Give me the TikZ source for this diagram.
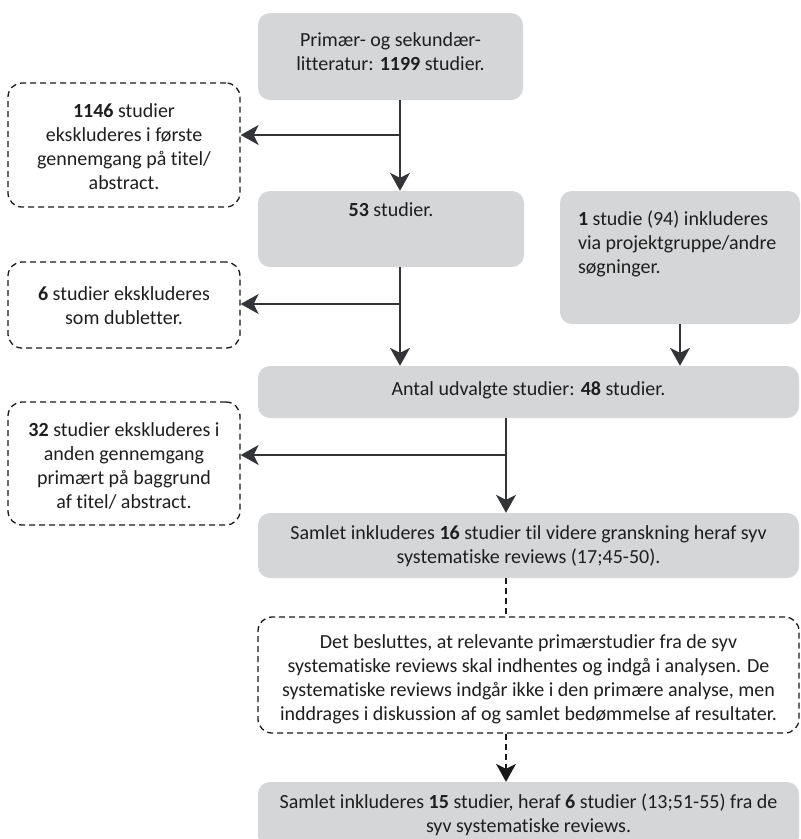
\documentclass[tikz,border=0pt]{standalone}
\usepackage{fontspec}
\setmainfont{Carlito}[Ligatures=NoCommon]
\usetikzlibrary{arrows.meta}

\definecolor{boxgray}{RGB}{213,214,216}
\definecolor{linegray}{RGB}{50,52,55}
\definecolor{txtgray}{RGB}{30,30,30}

% text set at the top of a box: [alignment]{width}{height}{top pad}{text}
\newcommand{\toptext}[5][\centering]{\parbox[c][#3][t]{#2}{#1\vspace*{#4}\strut#5}}

\begin{document}
\begin{tikzpicture}[x=1pt,y=-1pt,font=\fontsize{20}{24.3}\selectfont,text=txtgray,
  graybox/.style={fill=boxgray,rounded corners=12pt,inner sep=0pt},
  exclbox/.style={draw=black!90,line width=1.3pt,dash pattern=on 6pt off 4pt,rounded corners=14pt,inner sep=0pt},
  flow/.style={draw=linegray,line width=1.8pt,-{Stealth[length=18pt,width=20pt,inset=5pt]}},
  dashline/.style={draw=black!90,line width=1.3pt,dash pattern=on 6pt off 4pt}]
  \useasboundingbox (0,0) rectangle (801,839);

  % main column
  \node[graybox] (lit) at (390.5,56.5) {\toptext{265pt}{87pt}{16pt}{Primær- og sekundær-\\litteratur: \textbf{1199} studier.}};
  \node[graybox] (n53) at (391,229) {\toptext{266pt}{76pt}{8pt}{\textbf{53} studier.}};
  \node[graybox] (extra) at (680,257.5) {\toptext[\raggedright\leftskip=18pt]{240pt}{133pt}{17pt}{\textbf{1} studie (94) inkluderes\\via projektgruppe/andre\\søgninger.}};
  \node[graybox] (sel) at (528.5,392) {\toptext{541pt}{52pt}{12pt}{Antal udvalgte studier: \textbf{48} studier.}};
  \node[graybox] (incl16) at (528.5,545.5) {\toptext{541pt}{65pt}{9pt}{Samlet inkluderes \textbf{16} studier til videre granskning heraf syv\\systematiske reviews (17;45-50).}};
  \node[exclbox] (decide) at (528.5,675) {\toptext{541pt}{116pt}{14pt}{Det besluttes, at relevante primærstudier fra de syv\\systematiske reviews skal indhentes og indgå i analysen. De\\systematiske reviews indgår ikke i den primære analyse, men\\inddrages i diskussion af og samlet bedømmelse af resultater.}};
  \node[graybox] (incl15) at (528.5,815) {\toptext{541pt}{66pt}{9pt}{Samlet inkluderes \textbf{15} studier, heraf \textbf{6} studier (13;51-55) fra de\\syv systematiske reviews.}};

  % excluded studies
  \node[exclbox] (excl1) at (124,145) {\toptext{232pt}{124pt}{17pt}{\textbf{1146} studier\\ekskluderes i første\\gennemgang på titel/\\abstract.}};
  \node[exclbox] (excl2) at (124,305) {\toptext{232pt}{86pt}{21pt}{\textbf{6} studier ekskluderes\\som dubletter.}};
  \node[exclbox] (excl3) at (124,463.5) {\toptext{232pt}{123pt}{17pt}{\textbf{32} studier ekskluderes i\\anden gennemgang\\primært på baggrund\\af titel/ abstract.}};

  \coordinate (trunk1) at (400,135);
  \coordinate (trunk2) at (400,304);
  \coordinate (trunk3) at (506,455);

  \draw[flow] (lit.south -| trunk1) -- (n53.north -| trunk1);
  \draw[flow] (trunk1) -- (trunk1 -| excl1.east);
  \draw[flow] (n53.south -| trunk2) -- (sel.north -| trunk2);
  \draw[flow] (trunk2) -- (trunk2 -| excl2.east);
  \draw[flow] (extra.south) -- (sel.north -| extra.south);
  \draw[flow] (sel.south -| trunk3) -- (incl16.north -| trunk3);
  \draw[flow] (trunk3) -- (trunk3 -| excl3.east);
  \draw[dashline] (incl16.south -| trunk3) -- (decide.north -| trunk3);
  \draw[dashline,-{Stealth[length=18pt,width=20pt,inset=5pt]}] (decide.south -| trunk3) -- (incl15.north -| trunk3);
\end{tikzpicture}
\end{document}
